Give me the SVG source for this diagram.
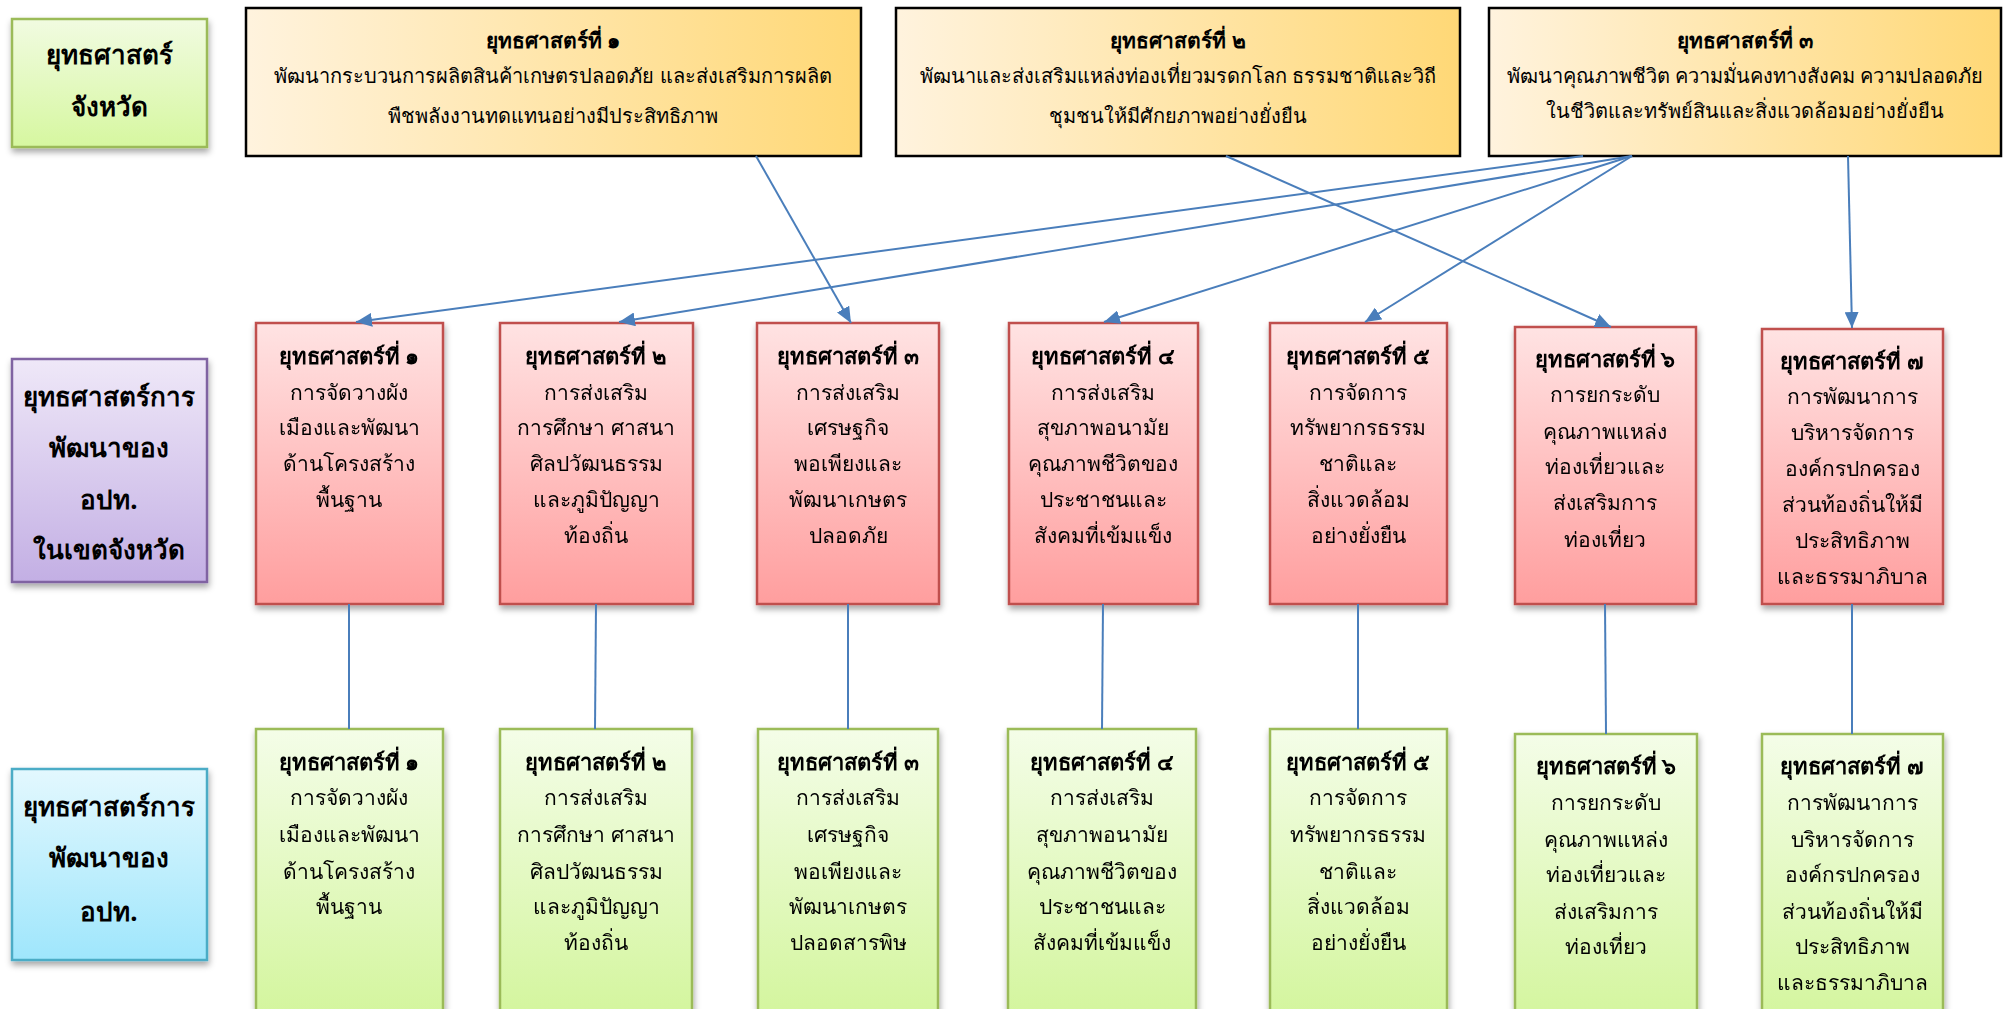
<svg xmlns="http://www.w3.org/2000/svg" width="2009" height="1009" viewBox="0 0 2009 1009">
<style>
text{font-family:"Noto Sans","DejaVu Sans",sans-serif;fill:#000;text-anchor:middle}
.t{font-size:22px;font-weight:bold}
.b{font-size:21px}
.h{font-size:20px}
.hb{font-size:21px;font-weight:bold}
.lab{font-size:26px;font-weight:bold}
.red{fill:url(#gRed);stroke:#c0504d;stroke-width:2.5}
.grn{fill:url(#gGrn);stroke:#9bbb59;stroke-width:2.5}
.yel{fill:url(#gYel);stroke:#000;stroke-width:2.5}
.cn{stroke:#4a7ebb;stroke-width:2;fill:none}
</style>
<defs>
<linearGradient id="gRed" x1="0" y1="0" x2="0" y2="1"><stop offset="0" stop-color="#ffe3e3"/><stop offset="1" stop-color="#ff9e9e"/></linearGradient>
<linearGradient id="gGrn" x1="0" y1="0" x2="0" y2="1"><stop offset="0" stop-color="#f4fde8"/><stop offset="1" stop-color="#d2f59a"/></linearGradient>
<linearGradient id="gGrnL" x1="0" y1="0" x2="0" y2="1"><stop offset="0" stop-color="#f1fbe1"/><stop offset="1" stop-color="#d6f7a0"/></linearGradient>
<linearGradient id="gPur" x1="0" y1="0" x2="0" y2="1"><stop offset="0" stop-color="#efe8f8"/><stop offset="1" stop-color="#c3afe4"/></linearGradient>
<linearGradient id="gCya" x1="0" y1="0" x2="0" y2="1"><stop offset="0" stop-color="#e3f8fe"/><stop offset="1" stop-color="#9fe6fc"/></linearGradient>
<linearGradient id="gYel" x1="0" y1="0" x2="1" y2="0"><stop offset="0" stop-color="#fff3de"/><stop offset="1" stop-color="#ffd876"/></linearGradient>
<filter id="sh" x="-10%" y="-10%" width="130%" height="130%"><feDropShadow dx="1" dy="4" stdDeviation="3" flood-color="#000" flood-opacity="0.35"/></filter>
<marker id="ar" markerUnits="userSpaceOnUse" markerWidth="16" markerHeight="14" refX="16" refY="7" orient="auto"><path d="M0,0 L16,7 L0,14 z" fill="#4a7ebb"/></marker>
</defs>

<g id="label-province">
<rect x="12" y="19" width="195" height="128" fill="url(#gGrnL)" stroke="#9bbb59" stroke-width="2.5" filter="url(#sh)"/>
<text class="lab" x="109" y="64">ยุทธศาสตร์</text>
<text class="lab" x="109" y="116">จังหวัด</text>
</g>
<g id="label-lao-province">
<rect x="12" y="359" width="195" height="223" fill="url(#gPur)" stroke="#8064a2" stroke-width="2.5" filter="url(#sh)"/>
<text class="lab" x="109" y="406">ยุทธศาสตร์การ</text>
<text class="lab" x="109" y="457">พัฒนาของ</text>
<text class="lab" x="109" y="509">อปท.</text>
<text class="lab" x="109" y="559">ในเขตจังหวัด</text>
</g>
<g id="label-lao">
<rect x="12" y="769" width="195" height="191" fill="url(#gCya)" stroke="#4bacc6" stroke-width="2.5" filter="url(#sh)"/>
<text class="lab" x="109" y="816">ยุทธศาสตร์การ</text>
<text class="lab" x="109" y="867">พัฒนาของ</text>
<text class="lab" x="109" y="921">อปท.</text>
</g>

<g id="ps1">
<rect class="yel" x="246" y="8" width="615" height="148"/>
<text class="hb" x="553" y="48">ยุทธศาสตร์ที่ ๑</text>
<text class="h" x="553" y="83">พัฒนากระบวนการผลิตสินค้าเกษตรปลอดภัย และส่งเสริมการผลิต</text>
<text class="h" x="553" y="123">พืชพลังงานทดแทนอย่างมีประสิทธิภาพ</text>
</g>
<g id="ps2">
<rect class="yel" x="896" y="8" width="564" height="148"/>
<text class="hb" x="1178" y="48">ยุทธศาสตร์ที่ ๒</text>
<text class="h" x="1178" y="83">พัฒนาและส่งเสริมแหล่งท่องเที่ยวมรดกโลก ธรรมชาติและวิถี</text>
<text class="h" x="1178" y="123">ชุมชนให้มีศักยภาพอย่างยั่งยืน</text>
</g>
<g id="ps3">
<rect class="yel" x="1489" y="8" width="512" height="148"/>
<text class="hb" x="1745" y="48">ยุทธศาสตร์ที่ ๓</text>
<text class="h" x="1745" y="83">พัฒนาคุณภาพชีวิต ความมั่นคงทางสังคม ความปลอดภัย</text>
<text class="h" x="1745" y="118">ในชีวิตและทรัพย์สินและสิ่งแวดล้อมอย่างยั่งยืน</text>
</g>

<g id="r1" filter="url(#sh)">
<rect class="red" x="256" y="323" width="187" height="281"/>
<text class="t" x="349" y="364">ยุทธศาสตร์ที่ ๑</text>
<text class="b" x="349" y="400">การจัดวางผัง</text>
<text class="b" x="349" y="435">เมืองและพัฒนา</text>
<text class="b" x="349" y="471">ด้านโครงสร้าง</text>
<text class="b" x="349" y="507">พื้นฐาน</text>
</g>
<g id="r2" filter="url(#sh)">
<rect class="red" x="500" y="323" width="193" height="281"/>
<text class="t" x="596" y="364">ยุทธศาสตร์ที่ ๒</text>
<text class="b" x="596" y="400">การส่งเสริม</text>
<text class="b" x="596" y="435">การศึกษา ศาสนา</text>
<text class="b" x="596" y="471">ศิลปวัฒนธรรม</text>
<text class="b" x="596" y="507">และภูมิปัญญา</text>
<text class="b" x="596" y="543">ท้องถิ่น</text>
</g>
<g id="r3" filter="url(#sh)">
<rect class="red" x="757" y="323" width="182" height="281"/>
<text class="t" x="848" y="364">ยุทธศาสตร์ที่ ๓</text>
<text class="b" x="848" y="400">การส่งเสริม</text>
<text class="b" x="848" y="435">เศรษฐกิจ</text>
<text class="b" x="848" y="471">พอเพียงและ</text>
<text class="b" x="848" y="507">พัฒนาเกษตร</text>
<text class="b" x="848" y="543">ปลอดภัย</text>
</g>
<g id="r4" filter="url(#sh)">
<rect class="red" x="1009" y="323" width="189" height="281"/>
<text class="t" x="1103" y="364">ยุทธศาสตร์ที่ ๔</text>
<text class="b" x="1103" y="400">การส่งเสริม</text>
<text class="b" x="1103" y="435">สุขภาพอนามัย</text>
<text class="b" x="1103" y="471">คุณภาพชีวิตของ</text>
<text class="b" x="1103" y="507">ประชาชนและ</text>
<text class="b" x="1103" y="543">สังคมที่เข้มแข็ง</text>
</g>
<g id="r5" filter="url(#sh)">
<rect class="red" x="1270" y="323" width="177" height="281"/>
<text class="t" x="1358" y="364">ยุทธศาสตร์ที่ ๕</text>
<text class="b" x="1358" y="400">การจัดการ</text>
<text class="b" x="1358" y="435">ทรัพยากรธรรม</text>
<text class="b" x="1358" y="471">ชาติและ</text>
<text class="b" x="1358" y="507">สิ่งแวดล้อม</text>
<text class="b" x="1358" y="543">อย่างยั่งยืน</text>
</g>
<g id="r6" filter="url(#sh)">
<rect class="red" x="1515" y="327" width="181" height="277"/>
<text class="t" x="1605" y="367">ยุทธศาสตร์ที่ ๖</text>
<text class="b" x="1605" y="402">การยกระดับ</text>
<text class="b" x="1605" y="439">คุณภาพแหล่ง</text>
<text class="b" x="1605" y="474">ท่องเที่ยวและ</text>
<text class="b" x="1605" y="510">ส่งเสริมการ</text>
<text class="b" x="1605" y="547">ท่องเที่ยว</text>
</g>
<g id="r7" filter="url(#sh)">
<rect class="red" x="1762" y="329" width="181" height="275"/>
<text class="t" x="1852" y="369">ยุทธศาสตร์ที่ ๗</text>
<text class="b" x="1852" y="404">การพัฒนาการ</text>
<text class="b" x="1852" y="440">บริหารจัดการ</text>
<text class="b" x="1852" y="476">องค์กรปกครอง</text>
<text class="b" x="1852" y="512">ส่วนท้องถิ่นให้มี</text>
<text class="b" x="1852" y="548">ประสิทธิภาพ</text>
<text class="b" x="1852" y="584">และธรรมาภิบาล</text>
</g>

<g id="g1" filter="url(#sh)">
<rect class="grn" x="256" y="729" width="187" height="300"/>
<text class="t" x="349" y="770">ยุทธศาสตร์ที่ ๑</text>
<text class="b" x="349" y="805">การจัดวางผัง</text>
<text class="b" x="349" y="842">เมืองและพัฒนา</text>
<text class="b" x="349" y="879">ด้านโครงสร้าง</text>
<text class="b" x="349" y="914">พื้นฐาน</text>
</g>
<g id="g2" filter="url(#sh)">
<rect class="grn" x="500" y="729" width="192" height="300"/>
<text class="t" x="596" y="770">ยุทธศาสตร์ที่ ๒</text>
<text class="b" x="596" y="805">การส่งเสริม</text>
<text class="b" x="596" y="842">การศึกษา ศาสนา</text>
<text class="b" x="596" y="879">ศิลปวัฒนธรรม</text>
<text class="b" x="596" y="914">และภูมิปัญญา</text>
<text class="b" x="596" y="950">ท้องถิ่น</text>
</g>
<g id="g3" filter="url(#sh)">
<rect class="grn" x="758" y="729" width="180" height="300"/>
<text class="t" x="848" y="770">ยุทธศาสตร์ที่ ๓</text>
<text class="b" x="848" y="805">การส่งเสริม</text>
<text class="b" x="848" y="842">เศรษฐกิจ</text>
<text class="b" x="848" y="879">พอเพียงและ</text>
<text class="b" x="848" y="914">พัฒนาเกษตร</text>
<text class="b" x="848" y="950">ปลอดสารพิษ</text>
</g>
<g id="g4" filter="url(#sh)">
<rect class="grn" x="1008" y="729" width="188" height="300"/>
<text class="t" x="1102" y="770">ยุทธศาสตร์ที่ ๔</text>
<text class="b" x="1102" y="805">การส่งเสริม</text>
<text class="b" x="1102" y="842">สุขภาพอนามัย</text>
<text class="b" x="1102" y="879">คุณภาพชีวิตของ</text>
<text class="b" x="1102" y="914">ประชาชนและ</text>
<text class="b" x="1102" y="950">สังคมที่เข้มแข็ง</text>
</g>
<g id="g5" filter="url(#sh)">
<rect class="grn" x="1270" y="729" width="177" height="300"/>
<text class="t" x="1358" y="770">ยุทธศาสตร์ที่ ๕</text>
<text class="b" x="1358" y="805">การจัดการ</text>
<text class="b" x="1358" y="842">ทรัพยากรธรรม</text>
<text class="b" x="1358" y="879">ชาติและ</text>
<text class="b" x="1358" y="914">สิ่งแวดล้อม</text>
<text class="b" x="1358" y="950">อย่างยั่งยืน</text>
</g>
<g id="g6" filter="url(#sh)">
<rect class="grn" x="1515" y="734" width="182" height="300"/>
<text class="t" x="1606" y="774">ยุทธศาสตร์ที่ ๖</text>
<text class="b" x="1606" y="810">การยกระดับ</text>
<text class="b" x="1606" y="847">คุณภาพแหล่ง</text>
<text class="b" x="1606" y="882">ท่องเที่ยวและ</text>
<text class="b" x="1606" y="919">ส่งเสริมการ</text>
<text class="b" x="1606" y="954">ท่องเที่ยว</text>
</g>
<g id="g7" filter="url(#sh)">
<rect class="grn" x="1762" y="734" width="181" height="300"/>
<text class="t" x="1852" y="774">ยุทธศาสตร์ที่ ๗</text>
<text class="b" x="1852" y="810">การพัฒนาการ</text>
<text class="b" x="1852" y="847">บริหารจัดการ</text>
<text class="b" x="1852" y="882">องค์กรปกครอง</text>
<text class="b" x="1852" y="919">ส่วนท้องถิ่นให้มี</text>
<text class="b" x="1852" y="954">ประสิทธิภาพ</text>
<text class="b" x="1852" y="990">และธรรมาภิบาล</text>
</g>

<g id="connectors">
<line class="cn" x1="756" y1="156" x2="851" y2="323" marker-end="url(#ar)"/>
<line class="cn" x1="1226" y1="156" x2="1611" y2="327" marker-end="url(#ar)"/>
<line class="cn" x1="1583" y1="156" x2="356" y2="322" marker-end="url(#ar)"/>
<line class="cn" x1="1632" y1="156" x2="619" y2="322" marker-end="url(#ar)"/>
<line class="cn" x1="1632" y1="156" x2="1104" y2="322" marker-end="url(#ar)"/>
<line class="cn" x1="1632" y1="156" x2="1365" y2="322" marker-end="url(#ar)"/>
<line class="cn" x1="1848" y1="156" x2="1852" y2="328" marker-end="url(#ar)"/>
<line class="cn" x1="349" y1="604" x2="349" y2="729"/>
<line class="cn" x1="596" y1="604" x2="595" y2="729"/>
<line class="cn" x1="848" y1="604" x2="848" y2="729"/>
<line class="cn" x1="1103" y1="604" x2="1102" y2="729"/>
<line class="cn" x1="1358" y1="604" x2="1358" y2="729"/>
<line class="cn" x1="1605" y1="604" x2="1606" y2="734"/>
<line class="cn" x1="1852" y1="604" x2="1852" y2="734"/>
</g>
</svg>
